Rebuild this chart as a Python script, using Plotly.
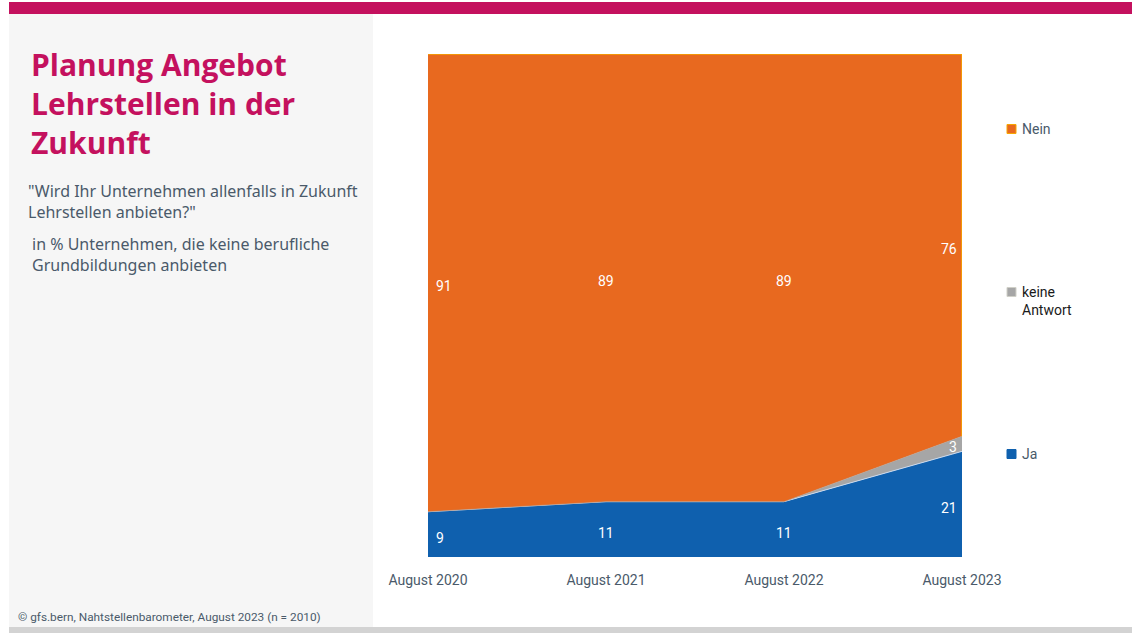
import plotly.graph_objects as go

# Survey waves and answer shares (in %)
waves = ["August 2020", "August 2021", "August 2022", "August 2023"]
ja = [9, 11, 11, 21]
keine_antwort = [0, 0, 0, 3]
nein = [91, 89, 89, 76]

W, H = 1132, 633

C_NEIN = "#E8691F"
C_NEIN_LINE = "#F7A600"
C_JA = "#0F60AE"
C_JA_LINE = "#C9D8EC"
C_KA = "#A6A6A6"
C_TEXT = "#4A5A6A"
C_TITLE = "#C4115E"


def px_x(p):
    return p / W


def px_y(p):
    return 1 - p / H


fig = go.Figure()

fig.add_trace(go.Scatter(
    x=waves, y=ja, name="Ja", stackgroup="s", mode="lines",
    line=dict(color=C_JA_LINE, width=1), fillcolor=C_JA, hoverinfo="skip",
))
fig.add_trace(go.Scatter(
    x=waves, y=keine_antwort, name="keine Antwort", stackgroup="s", mode="lines",
    line=dict(color=C_KA, width=0.5), fillcolor=C_KA, hoverinfo="skip",
))
fig.add_trace(go.Scatter(
    x=waves, y=nein, name="Nein", stackgroup="s", mode="lines",
    line=dict(color=C_NEIN_LINE, width=1.5), fillcolor=C_NEIN, hoverinfo="skip",
))

# Right edge outline of the orange band
fig.add_trace(go.Scatter(
    x=[waves[-1], waves[-1]], y=[ja[-1] + keine_antwort[-1], 100], mode="lines",
    line=dict(color=C_NEIN_LINE, width=1.5), hoverinfo="skip", showlegend=False,
))

annotations = []

# Value labels at the middle of each band
n = len(waves)
for i, w in enumerate(waves):
    base = 0
    for vals in (ja, keine_antwort, nein):
        v = vals[i]
        if v > 0:
            if i == 0:
                xa, xs = "left", 6
            elif i == n - 1:
                xa, xs = "right", -3
            else:
                xa, xs = "center", 0
            annotations.append(dict(
                x=w, y=base + v / 2, xref="x", yref="y", text=str(v),
                showarrow=False, xanchor=xa, xshift=xs, yshift=-3.5,
                font=dict(color="white", size=14, family="Roboto"),
            ))
        base += v

# Title block
annotations.append(dict(
    x=px_x(29), y=px_y(42), xref="paper", yref="paper", xanchor="left", yanchor="top",
    text="<b>Planung Angebot<br>Lehrstellen in der<br>Zukunft</b>", align="left", showarrow=False,
    font=dict(color=C_TITLE, size=30, family="Open Sans"),
))
annotations.append(dict(
    x=px_x(26), y=px_y(178), xref="paper", yref="paper", xanchor="left", yanchor="top",
    text="\"Wird Ihr Unternehmen allenfalls in Zukunft<br>Lehrstellen anbieten?\"", align="left",
    showarrow=False, font=dict(color=C_TEXT, size=16, family="Noto Sans"),
))
annotations.append(dict(
    x=px_x(30), y=px_y(231), xref="paper", yref="paper", xanchor="left", yanchor="top",
    text="in % Unternehmen, die keine berufliche<br>Grundbildungen anbieten", align="left",
    showarrow=False, font=dict(color=C_TEXT, size=16, family="Noto Sans"),
))
annotations.append(dict(
    x=px_x(16), y=px_y(617), xref="paper", yref="paper", xanchor="left", yanchor="middle",
    text="© gfs.bern, Nahtstellenbarometer, August 2023 (n = 2010)", align="left",
    showarrow=False, font=dict(color=C_TEXT, size=11.8, family="Roboto"),
))

shapes = [
    # top bar
    dict(type="rect", xref="paper", yref="paper", x0=px_x(9), x1=1, y0=px_y(14), y1=px_y(2),
         fillcolor=C_TITLE, line=dict(width=0), layer="below"),
    # left panel
    dict(type="rect", xref="paper", yref="paper", x0=px_x(9), x1=px_x(373), y0=px_y(627), y1=px_y(14),
         fillcolor="#F6F6F6", line=dict(width=0), layer="below"),
    # bottom bar
    dict(type="rect", xref="paper", yref="paper", x0=px_x(9), x1=1, y0=0, y1=px_y(627),
         fillcolor="#D3D3D3", line=dict(width=0), layer="below"),
]

# Legend entries
legend_items = [
    ("Nein", C_NEIN, C_NEIN_LINE, 129, C_TEXT),
    ("keine<br>Antwort", C_KA, "#D0D0C8", 292, "#1A1A1A"),
    ("Ja", C_JA, C_JA, 454, C_TEXT),
]
for label, fill, edge, yc, tc in legend_items:
    shapes.append(dict(
        type="rect", xref="paper", yref="paper",
        x0=px_x(1007), x1=px_x(1016), y0=px_y(yc + 4.5), y1=px_y(yc - 4.5),
        fillcolor=fill, line=dict(color=edge, width=1),
    ))
    annotations.append(dict(
        x=px_x(1020), y=px_y(yc - 10), xref="paper", yref="paper", xanchor="left", yanchor="top",
        text=label, align="left", showarrow=False,
        font=dict(color=tc, size=14, family="Roboto"),
    ))

fig.update_layout(
    width=W, height=H, autosize=False,
    margin=dict(l=0, r=0, t=0, b=0, pad=0, autoexpand=False),
    paper_bgcolor="white", plot_bgcolor="rgba(0,0,0,0)",
    showlegend=False,
    xaxis=dict(
        domain=[px_x(428), px_x(962)], showgrid=False, zeroline=False, showline=False,
        ticks="outside", ticklen=10, tickcolor="rgba(0,0,0,0)",
        tickfont=dict(color=C_TEXT, size=14, family="Roboto"),
        range=[0, 3], type="category", fixedrange=True, automargin=False,
    ),
    yaxis=dict(
        domain=[px_y(557), px_y(54)], range=[0, 100], showgrid=False, zeroline=False,
        showline=False, showticklabels=False, fixedrange=True, automargin=False,
    ),
    shapes=shapes,
    annotations=annotations,
)

fig.write_html("out.html")
